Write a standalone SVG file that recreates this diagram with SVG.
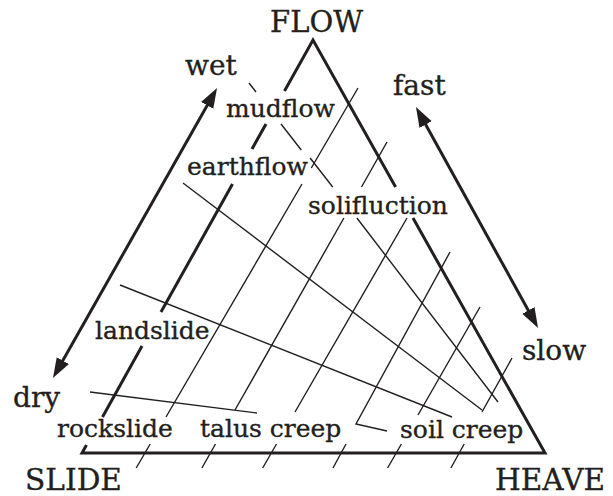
<svg xmlns="http://www.w3.org/2000/svg" width="613" height="496" viewBox="0 0 613 496">
  <style>
    .edge { fill: none; stroke: #231f20; stroke-width: 3; stroke-linejoin: miter; }
    .thin { fill: none; stroke: #231f20; stroke-width: 1.4; }
    .arrow { fill: none; stroke: #231f20; stroke-width: 3; }
    .lbl { font-family: "DejaVu Serif", "Liberation Serif", serif; fill: #231f20; stroke: #231f20; stroke-width: 0.35; font-size: 25px; }
    .big { font-family: "DejaVu Serif", "Liberation Serif", serif; fill: #231f20; stroke: #231f20; stroke-width: 0.35; font-size: 28px; }
    .cap { font-family: "DejaVu Serif", "Liberation Serif", serif; fill: #231f20; stroke: #231f20; stroke-width: 0.35; font-size: 29px; }
  </style>
  <defs>
    <marker id="head" markerUnits="userSpaceOnUse" markerWidth="22" markerHeight="16" refX="10" refY="7" orient="auto-start-reverse">
      <path d="M0,0 L20,7 L0,14 z" fill="#231f20"/>
    </marker>
  </defs>
  <rect width="613" height="496" fill="#ffffff"/>

  <g id="connectors">
    <!-- triangle edges -->
    <path class="edge" d="M284.5,91 L313,40 L395.6,187"/>
    <path class="edge" d="M266,124 L252,149"/>
    <path class="edge" d="M232.5,184 L161,312"/>
    <path class="edge" d="M142,346 L102.5,417"/>
    <path class="edge" d="M86.5,445 L82,453 L545,453 L413,218"/>
    <!-- wet / dry arrow -->
    <line class="arrow" x1="57.9" y1="369.3" x2="212.1" y2="96.7" marker-start="url(#head)" marker-end="url(#head)"/>
    <!-- fast / slow arrow -->
    <line class="arrow" x1="420.8" y1="115.8" x2="533.2" y2="319.2" marker-start="url(#head)" marker-end="url(#head)"/>

    <!-- lines parallel to the SLIDE edge -->
    <path class="thin" d="M358,88 L311.3,168 M302,184 L166,417 M150.2,444 L136.2,468"/>
    <path class="thin" d="M387,142 L361.5,187 M343.9,218 L235,410 M215.5,444 L201.9,468"/>
    <path class="thin" d="M407,218 L295,412 M276.5,444 L262.7,468"/>
    <path class="thin" d="M450,252 L356,424 L387,431 M346,444 L333,468"/>
    <path class="thin" d="M480,307 L418,415 M401.4,444 L387.6,468"/>
    <path class="thin" d="M512,358 L482,412 M464.2,444 L450.9,468"/>

    <!-- lines running down towards HEAVE -->
    <path class="thin" d="M249,83 L256,92 M281,124 L301.3,150 M310.1,158 L332.7,187 M356.9,218 L498,402"/>
    <path class="thin" d="M183,183 L482,410"/>
    <path class="thin" d="M120,285 L452,417"/>
    <path class="thin" d="M90,392 L257,413"/>
  </g>

  <g id="FLOW"><text class="cap" x="270" y="32" textLength="93" lengthAdjust="spacingAndGlyphs">FLOW</text></g>
  <g id="SLIDE"><text class="cap" x="25" y="490" textLength="97" lengthAdjust="spacingAndGlyphs">SLIDE</text></g>
  <g id="HEAVE"><text class="cap" x="495" y="490" textLength="110" lengthAdjust="spacingAndGlyphs">HEAVE</text></g>
  <g id="wet"><text class="big" x="185" y="75">wet</text></g>
  <g id="dry"><text class="big" x="13" y="407">dry</text></g>
  <g id="fast"><text class="big" x="393" y="95">fast</text></g>
  <g id="slow"><text class="big" x="522" y="360">slow</text></g>
  <g id="mudflow"><text class="lbl" x="226" y="117">mudflow</text></g>
  <g id="earthflow"><text class="lbl" x="187" y="175">earthflow</text></g>
  <g id="solifluction"><text class="lbl" x="308" y="214">solifluction</text></g>
  <g id="landslide"><text class="lbl" x="95" y="339">landslide</text></g>
  <g id="rockslide"><text class="lbl" x="57" y="437">rockslide</text></g>
  <g id="talus-creep"><text class="lbl" x="200" y="437">talus creep</text></g>
  <g id="soil-creep"><text class="lbl" x="400" y="438">soil creep</text></g>
</svg>
